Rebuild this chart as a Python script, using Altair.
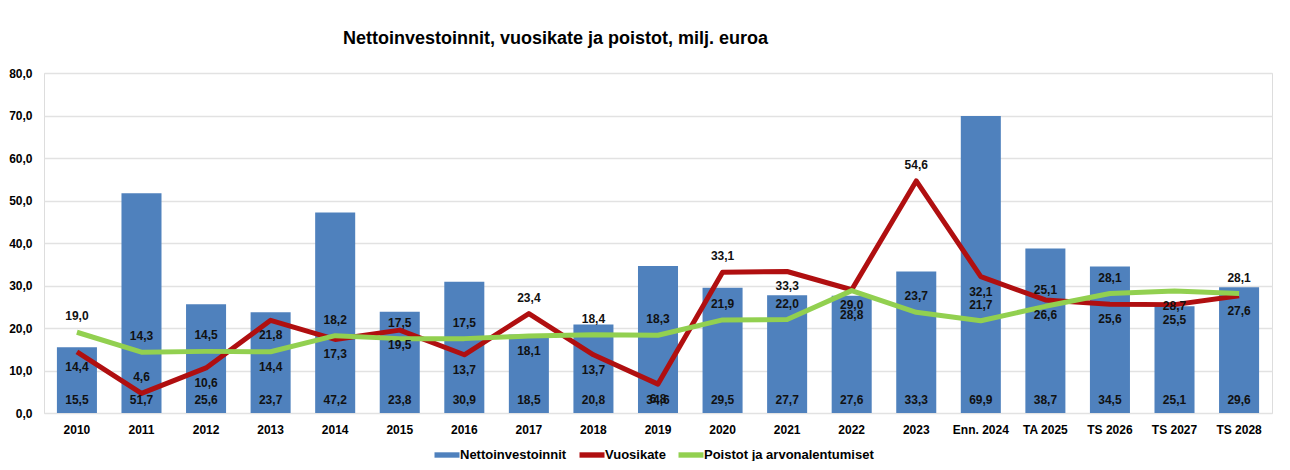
import altair as alt
import pandas as pd

categories = ["2010", "2011", "2012", "2013", "2014", "2015", "2016", "2017", "2018",
              "2019", "2020", "2021", "2022", "2023", "Enn. 2024", "TA 2025",
              "TS 2026", "TS 2027", "TS 2028"]
nettoinvestoinnit = [15.5, 51.7, 25.6, 23.7, 47.2, 23.8, 30.9, 18.5, 20.8, 34.6,
                     29.5, 27.7, 27.6, 33.3, 69.9, 38.7, 34.5, 25.1, 29.6]
vuosikate = [14.4, 4.6, 10.6, 21.8, 17.3, 19.5, 13.7, 23.4, 13.7, 6.8,
             33.1, 33.3, 29.0, 54.6, 32.1, 26.6, 25.6, 25.5, 27.6]
poistot = [19.0, 14.3, 14.5, 14.4, 18.2, 17.5, 17.5, 18.1, 18.4, 18.3,
           21.9, 22.0, 28.8, 23.7, 21.7, 25.1, 28.1, 28.7, 28.1]
# label placement relative to the point: a = above, b = below, b2 = further below
vk_place = ["b", "a", "b", "b", "b", "b", "b", "a", "b", "b",
            "a", "b", "b", "a", "b", "b", "b", "b", "b"]
po_place = ["a", "a", "a", "b", "a", "a", "a", "b", "a", "a",
            "a", "a", "b2", "a", "a", "a", "a", "b", "a"]

S_NET = "Nettoinvestoinnit"
S_VK = "Vuosikate"
S_PO = "Poistot ja arvonalentumiset"


def fmt(v):
    return f"{v:.1f}".replace(".", ",")


net_df = pd.DataFrame({"cat": categories, "value": nettoinvestoinnit, "series": S_NET,
                       "label": [fmt(v) for v in nettoinvestoinnit]})
vk_df = pd.DataFrame({"cat": categories, "value": vuosikate, "series": S_VK,
                      "label": [fmt(v) for v in vuosikate], "place": vk_place})
po_df = pd.DataFrame({"cat": categories, "value": poistot, "series": S_PO,
                      "label": [fmt(v) for v in poistot], "place": po_place})

FONT = "Liberation Sans"

x = alt.X("cat:N", sort=categories,
          scale=alt.Scale(paddingInner=0.38, paddingOuter=0.2),
          axis=alt.Axis(title=None, labelAngle=0, ticks=False, domain=False,
                        labelFont=FONT, labelFontWeight="bold", labelFontSize=12,
                        labelColor="#000000", labelPadding=11))
y = alt.Y("value:Q", scale=alt.Scale(domain=[0, 80], nice=False),
          axis=alt.Axis(title=None, values=list(range(0, 90, 10)),
                        labelExpr="replace(format(datum.value, '.1f'), '.', ',')",
                        grid=True, gridColor="#E2E2E2", gridWidth=1.5, ticks=False,
                        domain=False, labelPadding=12, labelFont=FONT,
                        labelFontWeight="bold", labelFontSize=12, labelColor="#000000"))

color = alt.Color("series:N",
                  scale=alt.Scale(domain=[S_NET, S_VK, S_PO],
                                  range=["#4F81BD", "#B00F10", "#92D050"]),
                  legend=alt.Legend(title=None, orient="none", legendX=393, legendY=372,
                                    direction="horizontal",
                                    symbolType="M-1.25,-0.27H1.25V0.27H-1.25Z",
                                    symbolSize=400, symbolStrokeWidth=0,
                                    labelFont=FONT, labelFontWeight="bold",
                                    labelFontSize=13, labelColor="#000000",
                                    labelLimit=400, labelOffset=3, columnPadding=12))

bars = alt.Chart(net_df).mark_bar(color="#4F81BD").encode(x=x, y=y, color=color)

bar_labels = alt.Chart(net_df).mark_text(
    font=FONT, fontWeight="bold", fontSize=12, color="#111111", baseline="middle", dy=-13
).encode(x=x, y=alt.datum(0), text="label:N")

po_line = alt.Chart(po_df).mark_line(strokeWidth=5, strokeJoin="round").encode(
    x=x, y=y, color=color)
vk_line = alt.Chart(vk_df).mark_line(strokeWidth=5, strokeJoin="round").encode(
    x=x, y=y, color=color)


def labels(df, place, dy):
    return alt.Chart(df).transform_filter(alt.datum.place == place).mark_text(
        font=FONT, fontWeight="bold", fontSize=12, color="#111111",
        baseline="middle", dy=dy
    ).encode(x=x, y=y, text="label:N")


layers = [bars, vk_line, po_line, bar_labels]
for df in (vk_df, po_df):
    layers += [labels(df, "a", -16), labels(df, "b", 15), labels(df, "b2", 24)]

chart = alt.layer(*layers).properties(
    width=1228, height=340,
    padding={"left": 36, "top": 65, "right": 10, "bottom": 48},
    autosize=alt.AutoSizeParams(type="none"),
    title=alt.TitleParams("Nettoinvestoinnit, vuosikate ja poistot, milj. euroa",
                          anchor="start", frame="group", dx=299, offset=19,
                          font=FONT, fontSize=18, fontWeight="bold", color="#000000"),
).configure_view(stroke=None).configure(font=FONT, background="#FFFFFF")

chart.save("out.html", embed_options={"renderer": "svg", "actions": False})
